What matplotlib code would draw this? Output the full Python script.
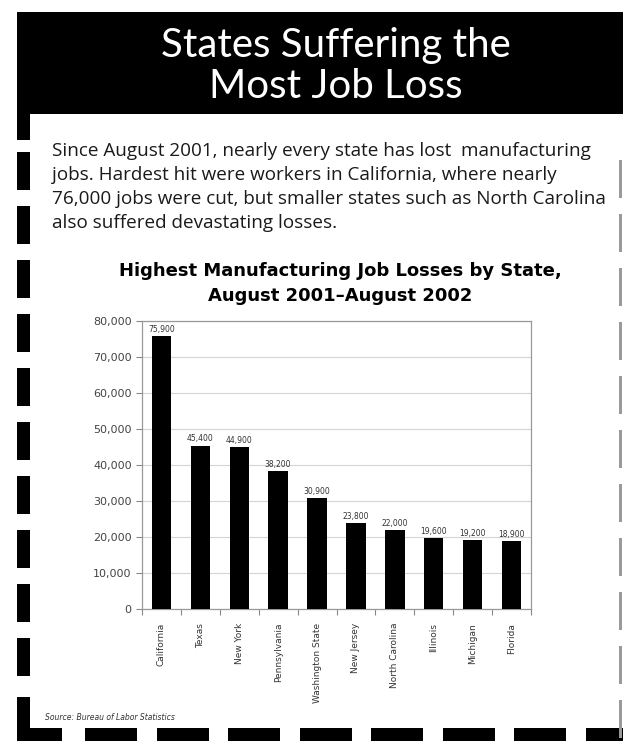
import matplotlib
matplotlib.use("Agg")
import matplotlib.pyplot as plt
from matplotlib.patches import Rectangle

# data
states = ["California", "Texas", "New York", "Pennsylvania", "Washington State",
          "New Jersey", "North Carolina", "Illinois", "Michigan", "Florida"]
losses = [75900, 45400, 44900, 38200, 30900, 23800, 22000, 19600, 19200, 18900]
y_ticks = [0, 10000, 20000, 30000, 40000, 50000, 60000, 70000, 80000]

header_lines = ["States Suffering the", "Most Job Loss"]
body_lines = [
    "Since August 2001, nearly every state has lost  manufacturing",
    "jobs. Hardest hit were workers in California, where nearly",
    "76,000 jobs were cut, but smaller states such as North Carolina",
    "also suffered devastating losses.",
]
chart_title = ["Highest Manufacturing Job Losses by State,",
               "August 2001\u2013August 2002"]
source = "Source: Bureau of Labor Statistics"

W, H = 623, 741
fig = plt.figure(figsize=(W / 100, H / 100), dpi=100)
fig.patch.set_facecolor("white")

# helper to work in pixel coords (top-left origin)
def px(x, y):
    return x / W, 1 - y / H

def rect(x0, y0, x1, y1, color="black"):
    fig.patches.append(Rectangle((x0 / W, 1 - y1 / H), (x1 - x0) / W, (y1 - y0) / H,
                                 transform=fig.transFigure, color=color, lw=0, zorder=0))

# header block + left solid corner
rect(17, 12, W, 114)
rect(17, 12, 30, 140)

# left dashed border
y = 152
while y < 690:
    rect(17, y, 30, y + 38)
    y += 54
# bottom left corner
rect(17, 697, 30, 741)
rect(17, 728, 62, 741)
# bottom dashes
x = 85
while x < W:
    rect(x, 728, x + 52, 741)
    x += 71.5
# right thin gray dashes
y = 160
while y < 730:
    rect(619, y, 622, y + 38, color="#9a9a9a")
    y += 54

# header text
for i, line in enumerate(header_lines):
    fig.text(*px(336, 46 + i * 40), line, color="white", fontsize=29,
             family="Lato", ha="center", va="center")

# body text
for i, line in enumerate(body_lines):
    fig.text(*px(52, 151 + i * 24), line, color="#1a1a1a", fontsize=13.6,
             family="Open Sans", ha="left", va="center")

# chart title
for i, line in enumerate(chart_title):
    fig.text(*px(340, 271 + i * 25), line, color="black", fontsize=13,
             family="DejaVu Sans", weight="bold", ha="center", va="center")

# chart axes
ax = fig.add_axes([142 / W, 132 / H, 389 / W, 288 / H])
pos = list(range(len(states)))
ax.bar(pos, losses, width=0.5, color="black", zorder=3)
ax.set_xlim(-0.5, len(states) - 0.5)
ax.set_ylim(0, 80000)
ax.set_yticks(y_ticks)
ax.set_yticklabels([f"{v:,}" for v in y_ticks], fontsize=8, color="#444444")
ax.yaxis.grid(True, color="#d4d4d4", lw=0.8, zorder=0)

ax.set_xticks([p - 0.5 for p in pos] + [len(states) - 0.5])
ax.set_xticklabels([])
ax.set_xticks(pos, minor=True)
ax.set_xticklabels(states, minor=True, rotation=90, fontsize=6.5, color="#333333",
                   va="top")
ax.tick_params(axis="x", which="minor", length=0, pad=10)
ax.tick_params(axis="x", which="major", length=4, color="#888888")
ax.tick_params(axis="y", length=4, color="#888888")

for s in ax.spines.values():
    s.set_color("#999999")
    s.set_linewidth(0.9)

for p, v in zip(pos, losses):
    ax.text(p, v + 600, f"{v:,}", ha="center", va="bottom", fontsize=5.5,
            color="#333333")

# source note
fig.text(*px(45, 717), source, fontsize=5.5, style="italic", color="#333333",
         ha="left", va="center")

fig.savefig("out.png", dpi=100)
